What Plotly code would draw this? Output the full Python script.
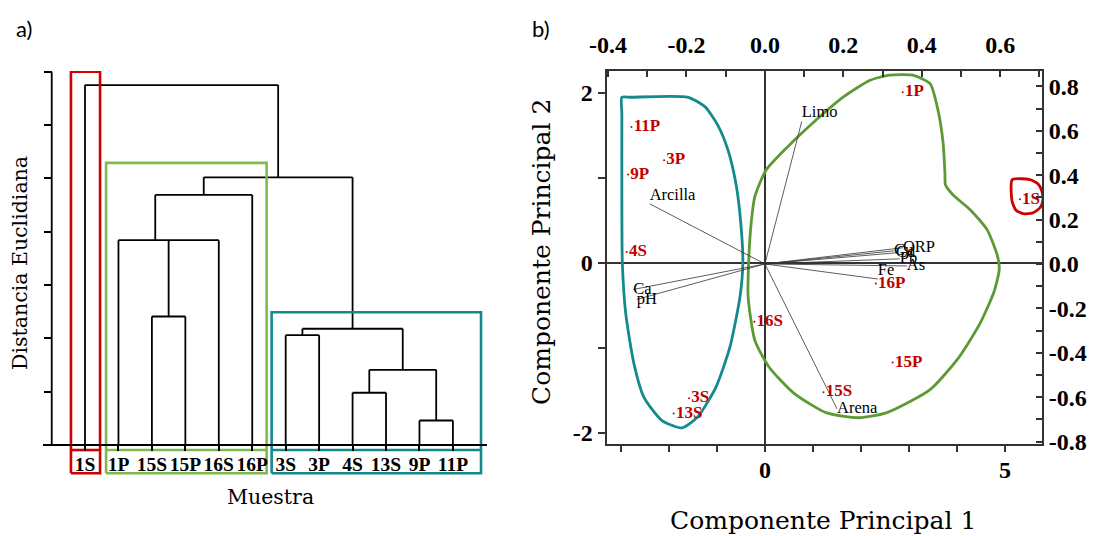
import plotly.graph_objects as go

W, H = 1094, 536

# ---------------- Panel a: dendrogram data ----------------
LEAVES = ['1S', '1P', '15S', '15P', '16S', '16P', '3S', '3P', '4S', '13S', '9P', '11P']
NODE_NAMES = ['A', 'B', 'C', 'D', 'E', 'F', 'G', 'H', 'I', 'J']
NODE_CHILDREN = [['9P', '11P'], ['4S', '13S'], ['B', 'A'], ['3S', '3P'], ['D', 'C'],
                 ['15S', '15P'], ['1P', 'F', '16S'], ['G', '16P'], ['H', 'E'], ['1S', 'I']]
NODE_HEIGHTS = [0.46, 0.98, 1.41, 2.06, 2.18, 2.41, 3.84, 4.69, 5.02, 6.75]
NODE_JOINT = {'G': 2.1}
DIST_TICKS = [0, 1, 2, 3, 4, 5, 6, 7]

# cluster frames of panel a (leaf-index / distance units)
CLUSTER_COLORS_A = ['#d00000', '#7dbb4e', '#128a8c']
CLUSTER_X0 = [-0.42, 0.63, 5.58]
CLUSTER_X1 = [0.45, 5.43, 11.84]
CLUSTER_TOP = [7.0, 5.29, 2.49]
CLUSTER_BOTTOM = -0.53
CLUSTER_DIVIDER = -0.094

# ---------------- Panel b: PCA biplot data ----------------
SAMPLES = ['1S', '1P', '15S', '15P', '16S', '16P', '3S', '3P', '4S', '13S', '9P', '11P']
PC1 = [5.31, 2.87, 1.22, 2.66, -0.22, 2.31, -1.58, -2.10, -2.88, -1.90, -2.85, -2.78]
PC2 = [0.75, 2.01, -1.52, -1.17, -0.69, -0.24, -1.59, 1.21, 0.13, -1.77, 1.04, 1.60]

VARIABLES = ['Limo', 'Arcilla', 'Ca', 'pH', 'Arena', 'Fe', 'ORP', 'Cu', 'Cd', 'Pb', 'As']
LOAD1 = [0.094, -0.294, -0.336, -0.327, 0.184, 0.288, 0.352, 0.329, 0.334, 0.344, 0.362]
LOAD2 = [0.642, 0.271, -0.115, -0.160, -0.653, -0.068, 0.073, 0.059, 0.050, 0.023, -0.009]
VAR_TEXTPOS = ['top right', 'top right', 'middle right', 'middle right', 'middle right',
               'top right', 'middle right', 'middle right', 'middle right', 'middle right', 'middle right']

# group outlines (PC1 / PC2 units)
TEAL_X = [-2.98, -2.98, -2.80, -1.60, -1.25, -0.98, -0.77, -0.60, -0.50, -0.46, -0.52, -0.73, -1.02, -1.40,
          -1.73, -2.15, -2.52, -2.73, -2.90, -2.97, -2.98, -2.98]
TEAL_Y = [1.75, 1.95, 1.95, 1.95, 1.84, 1.62, 1.33, 0.92, 0.45, 0.0, -0.40, -0.99, -1.46, -1.81,
          -1.94, -1.85, -1.58, -1.18, -0.59, 0.0, 0.74, 1.75]
GREEN_X = [-0.21, 0.02, 0.46, 1.06, 1.65, 2.19, 2.60, 3.08, 3.44, 3.60, 3.71, 3.75, 3.76, 3.92,
           4.27, 4.63, 4.85, 4.88, 4.77, 4.48, 4.04, 3.44, 2.54, 1.96, 1.27, 0.60, 0.08,
           -0.21, -0.35, -0.34, -0.29, -0.21]
GREEN_Y = [0.78, 1.09, 1.36, 1.68, 1.96, 2.15, 2.21, 2.21, 2.11, 1.81, 1.42, 1.05, 0.92, 0.80,
           0.63, 0.39, 0.07, -0.08, -0.34, -0.71, -1.11, -1.49, -1.76, -1.82, -1.76, -1.53, -1.22,
           -0.91, -0.40, 0.0, 0.45, 0.78]
RED_X = [5.15, 5.52, 5.69, 5.77, 5.79, 5.73, 5.58, 5.375, 5.23, 5.15, 5.15]
RED_Y = [0.98, 0.98, 0.93, 0.84, 0.74, 0.65, 0.59, 0.58, 0.62, 0.72, 0.98]

# ---------------- geometry ----------------
XA_DOM = [43 / W, 486.7 / W]
YA_DOM = [(H - 476) / H, (H - 71) / H]
XA_RANGE = [-1.256, 12.01]
YA_RANGE = [-0.581, 7.013]
AX_X = -0.995  # location of the distance axis, in leaf units

XB_DOM = [606.5 / W, 1042 / W]
YB_DOM = [(H - 444) / H, (H - 71) / H]
XB_RANGE = [-3.30, 5.771]
YB_RANGE = [-2.129, 2.259]
XT_RANGE = [-0.404, 0.7066]
YR_RANGE = [-0.811, 0.869]

SERIF = 'Liberation Serif'
TITLE_FONT = 'DejaVu Serif'
RED = '#c00000'

fig = go.Figure()

# ---- dendrogram ----
pos = {name: (i, 0.0) for i, name in enumerate(LEAVES)}
dx, dy = [], []
for name, kids, h in zip(NODE_NAMES, NODE_CHILDREN, NODE_HEIGHTS):
    kx = [pos[k][0] for k in kids]
    for k in kids:
        dx += [pos[k][0], pos[k][0], None]
        dy += [pos[k][1], h, None]
    dx += [min(kx), max(kx), None]
    dy += [h, h, None]
    pos[name] = (NODE_JOINT.get(name, (min(kx) + max(kx)) / 2), h)

fig.add_trace(go.Scatter(x=dx, y=dy, mode='lines', line=dict(color='black', width=1.8),
                         xaxis='x', yaxis='y', hoverinfo='skip', showlegend=False))
fig.add_trace(go.Scatter(x=[AX_X, AX_X], y=[DIST_TICKS[0], DIST_TICKS[-1]], mode='lines',
                         line=dict(color='black', width=1.8), xaxis='x', yaxis='y',
                         hoverinfo='skip', showlegend=False))
for c, x0, x1, top in zip(CLUSTER_COLORS_A, CLUSTER_X0, CLUSTER_X1, CLUSTER_TOP):
    fig.add_trace(go.Scatter(
        x=[x0, x1, x1, x0, x0, None, x0, x1],
        y=[CLUSTER_BOTTOM, CLUSTER_BOTTOM, top, top, CLUSTER_BOTTOM, None, CLUSTER_DIVIDER, CLUSTER_DIVIDER],
        mode='lines', line=dict(color=c, width=2.6), xaxis='x', yaxis='y',
        hoverinfo='skip', showlegend=False))

# ---- biplot ----
for ox, oy, c in [(TEAL_X, TEAL_Y, '#138a8c'), (GREEN_X, GREEN_Y, '#5b9a35'), (RED_X, RED_Y, '#d00000')]:
    fig.add_trace(go.Scatter(x=ox, y=oy, mode='lines', line=dict(color=c, width=2.8, shape='spline', smoothing=0.6),
                             xaxis='x3', yaxis='y3', hoverinfo='skip', showlegend=False))

lx, ly = [], []
for a, b in zip(LOAD1, LOAD2):
    lx += [0, a, None]
    ly += [0, b, None]
fig.add_trace(go.Scatter(x=lx, y=ly, mode='lines', line=dict(color='#333333', width=0.8),
                         xaxis='x4', yaxis='y4', hoverinfo='skip', showlegend=False))
fig.add_trace(go.Scatter(x=LOAD1, y=LOAD2, mode='text', text=VARIABLES, textposition=VAR_TEXTPOS,
                         textfont=dict(family=SERIF, size=16.5, color='black'),
                         xaxis='x4', yaxis='y4', hoverinfo='skip', showlegend=False, cliponaxis=False))
fig.add_trace(go.Scatter(x=PC1, y=PC2, mode='markers+text', text=SAMPLES, textposition='middle right',
                         marker=dict(color=RED, size=2),
                         textfont=dict(family=SERIF, size=17, color=RED, weight='bold'),
                         xaxis='x3', yaxis='y3', hoverinfo='skip', showlegend=False, cliponaxis=False))


def frac(v, rng, dom):
    return dom[0] + (v - rng[0]) / (rng[1] - rng[0]) * (dom[1] - dom[0])


tick_font = dict(family=SERIF, size=24, color='black', weight='bold')
frame = dict(showline=True, linecolor='#333333', linewidth=1.8, showgrid=False, automargin=False)

top_vals = [round(-0.4 + 0.1 * i, 1) for i in range(12)]
right_vals = [round(-0.8 + 0.1 * i, 1) for i in range(17)]


def lab(v):
    return ('%.1f' % v).replace('-0.0', '0.0') if round(v * 10) % 2 == 0 else ''


fig.update_layout(
    width=W, height=H, margin=dict(l=0, r=0, t=0, b=0, autoexpand=False),
    paper_bgcolor='white', plot_bgcolor='rgba(0,0,0,0)', showlegend=False,
    xaxis=dict(domain=XA_DOM, range=XA_RANGE, anchor='free', automargin=False,
               position=frac(0, YA_RANGE, YA_DOM), showline=True, linecolor='black', linewidth=1.8,
               ticks='outside', ticklen=5, tickwidth=1.5, tickcolor='black', ticklabelstandoff=-3,
               tickvals=list(range(len(LEAVES))), ticktext=LEAVES,
               tickfont=dict(family=SERIF, size=19.5, color='black', weight='bold'),
               showgrid=False, zeroline=False),
    yaxis=dict(domain=YA_DOM, range=YA_RANGE, anchor='free', automargin=False,
               position=frac(AX_X, XA_RANGE, XA_DOM), showline=False,
               ticks='outside', ticklen=8, tickwidth=1.8, tickcolor='black',
               tickvals=DIST_TICKS, showticklabels=False, showgrid=False, zeroline=False),
    xaxis3=dict(domain=XB_DOM, range=XB_RANGE, anchor='y3', **frame,
                ticks='outside', ticklen=6, tickwidth=1.5, tickcolor='#333333', ticklabelstandoff=-3,
                tickvals=list(range(-3, 6)), ticktext=[str(v) if v % 5 == 0 else '' for v in range(-3, 6)],
                tickfont=tick_font, zeroline=True, zerolinecolor='#333333', zerolinewidth=1.5),
    yaxis3=dict(domain=YB_DOM, range=YB_RANGE, anchor='x3', **frame,
                ticks='outside', ticklen=7, tickwidth=1.5, tickcolor='#333333',
                tickvals=[-2, -1, 0, 1, 2], ticktext=['-2', '', '0', '', '2'],
                tickfont=tick_font, zeroline=True, zerolinecolor='#333333', zerolinewidth=1.5),
    xaxis4=dict(overlaying='x3', side='top', anchor='y3', range=XT_RANGE, **frame,
                ticks='inside', ticklen=6, tickwidth=1.5, tickcolor='#333333',
                tickvals=top_vals, ticktext=[lab(v) for v in top_vals], ticklabelstandoff=7,
                tickfont=tick_font, zeroline=False),
    yaxis4=dict(overlaying='y3', side='right', anchor='x3', range=YR_RANGE, **frame,
                ticks='inside', ticklen=6, tickwidth=1.5, tickcolor='#333333',
                tickvals=right_vals, ticktext=[lab(v) for v in right_vals],
                tickfont=tick_font, zeroline=False),
)


def ann(text, px, py, size, family, angle=0):
    fig.add_annotation(text=text, x=px / W, y=1 - py / H, xref='paper', yref='paper',
                       xanchor='center', yanchor='middle', showarrow=False, textangle=angle,
                       font=dict(family=family, size=size, color='black'))


ann('a)', 24, 28, 22, 'Lato')
ann('b)', 541, 28, 22, 'Lato')
ann('Distancia Euclidiana', 20, 263, 20.5, TITLE_FONT, -90)
ann('Muestra', 270, 497, 20.5, TITLE_FONT)
ann('Componente Principal 1', 823, 520, 25, TITLE_FONT)
ann('Componente Principal 2', 541, 252, 25, TITLE_FONT, -90)

fig.write_html('out.html')
